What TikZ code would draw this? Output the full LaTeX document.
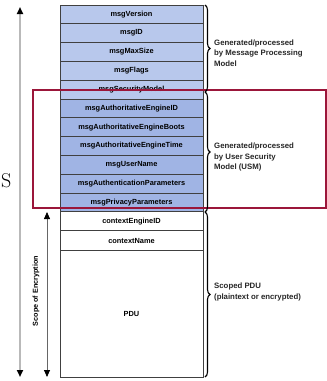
\documentclass[tikz,border=0pt]{standalone}
\usepackage{fontspec}
\setsansfont{Liberation Sans}
\usetikzlibrary{positioning, arrows.meta, decorations.pathreplacing}
\definecolor{hdrblue}{RGB}{184,200,236}
\definecolor{usmblue}{RGB}{160,180,228}
\definecolor{boxred}{RGB}{155,22,58}
\tikzstyle{field}  = [rectangle, minimum width=143pt, minimum height=18.8pt, inner sep=0pt, outer sep=0pt,
                      text centered, draw=black!75, line width=0.8pt, font=\sffamily\bfseries\fontsize{7.4}{8}\selectfont]
\tikzstyle{hdr}    = [field, fill=hdrblue]
\tikzstyle{usm}    = [field, fill=usmblue]
\tikzstyle{scoped} = [field, fill=white]
\tikzstyle{brace}  = [decorate, decoration={brace, amplitude=5pt}, line width=1.1pt]
\tikzstyle{note}   = [anchor=west, align=left, inner sep=0pt, font=\sffamily\bfseries\fontsize{7.8}{10.5}\selectfont, text=black!85]
\tikzstyle{scopearrow} = [{Triangle[length=7pt, width=6pt, color=black]}-{Triangle[length=7pt, width=6pt, color=black]}]

\begin{document}
\begin{tikzpicture}[x=1pt, y=-1pt]
    \useasboundingbox (0,0) rectangle (327,381);

    \node (ver)   [hdr] at (131.5,14.4) {msgVersion};
    \node (id)    [hdr, below=0pt of ver] {msgID};
    \node (maxsz) [hdr, below=0pt of id] {msgMaxSize};
    \node (flags) [hdr, below=0pt of maxsz] {msgFlags};
    \node (secm)  [hdr, below=0pt of flags] {msgSecurityModel};
    \node (eid)   [usm, below=0pt of secm] {msgAuthoritativeEngineID};
    \node (boots) [usm, below=0pt of eid] {msgAuthoritativeEngineBoots};
    \node (etime) [usm, below=0pt of boots] {msgAuthoritativeEngineTime};
    \node (uname) [usm, below=0pt of etime] {msgUserName};
    \node (auth)  [usm, below=0pt of uname] {msgAuthenticationParameters};
    \node (priv)  [usm, below=0pt of auth] {msgPrivacyParameters};
    \node (ceid)  [scoped, below=0pt of priv] {contextEngineID};
    \node (cname) [scoped, below=0pt of ceid, minimum height=20pt] {contextName};
    \node (pdu)   [scoped, below=0pt of cname, minimum height=126.4pt] {PDU};

    % USM frame
    \draw[boxred, line width=1.6pt] (33,90) rectangle (326,208);

    % scope arrows on the left
    \coordinate (alltop) at (20,7);
    \coordinate (allbot) at (20,377);
    \coordinate (enctop) at (47,212);
    \coordinate (encbot) at (47,377);
    \draw[scopearrow, gray!55, line width=2.4pt] (alltop) -- (allbot);
    \draw[scopearrow, black!60, line width=0.8pt] (enctop) -- (encbot);
    \node (enclabel) [rotate=90, font=\sffamily\bfseries\fontsize{7.2}{8}\selectfont] at (36,291) {Scope of Encryption};
    \node (stray) [anchor=west, inner sep=0pt, font=\fontsize{20}{22}\selectfont] at (1,181) {S};

    % braces on the right
    \coordinate (mpmtop) at (205,5);
    \coordinate (mpmbot) at (205,92);
    \coordinate (usmbot) at (205,212);
    \coordinate (pdubot) at (205,377);
    \draw[brace] (mpmtop) -- (mpmbot);
    \draw[brace] (mpmbot) -- (usmbot);
    \draw[brace] (usmbot) -- (pdubot);
    \node (mpmnote) [note] at (214,53) {Generated/processed\\by Message Processing\\Model};
    \node (usmnote) [note] at (214,157) {Generated/processed\\by User Security\\Model (USM)};
    \node (pdunote) [note] at (214,292) {Scoped PDU\\(plaintext or encrypted)};
\end{tikzpicture}
\end{document}
